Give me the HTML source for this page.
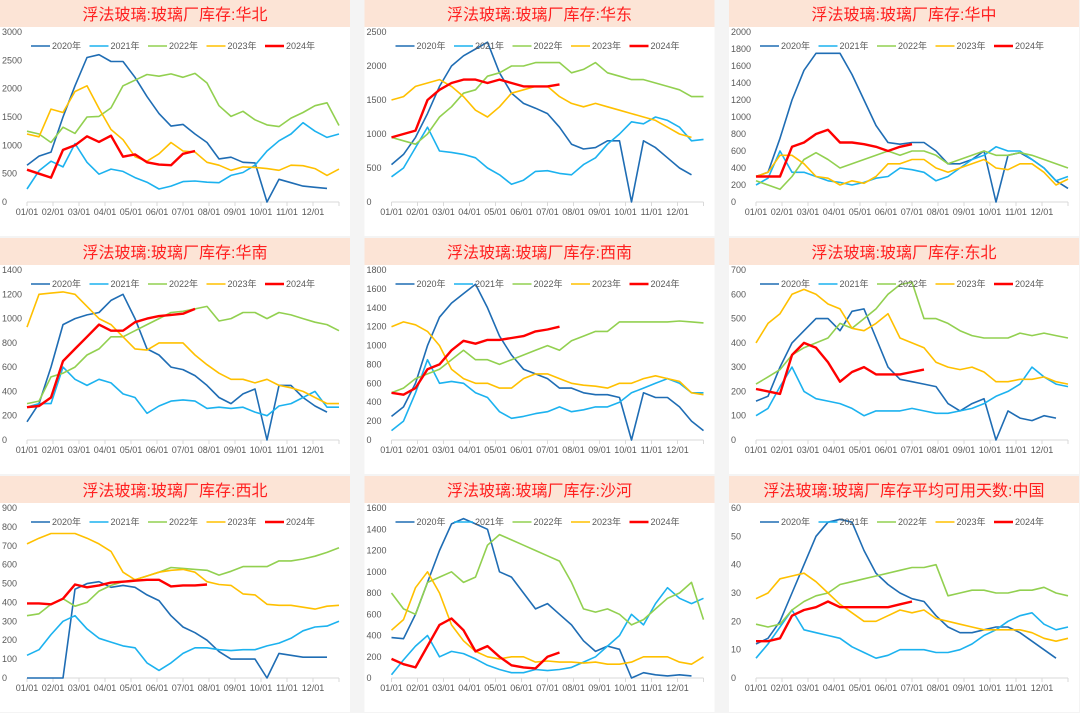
<!DOCTYPE html>
<html><head><meta charset="utf-8">
<style>
body{margin:0;width:1080px;height:713px;background:#f4f4f4;font-family:"Liberation Sans","Noto Sans CJK SC",sans-serif;overflow:hidden}
svg{display:block}
</style></head><body>
<svg id="root" width="1080" height="713"></svg>
<script>
const years = ["2020年","2021年","2022年","2023年","2024年"];
const months = ["01/01","02/01","03/01","04/01","05/01","06/01","07/01","08/01","09/01","10/01","11/01","12/01"];
const titles = ["浮法玻璃:玻璃厂库存:华北","浮法玻璃:玻璃厂库存:华东","浮法玻璃:玻璃厂库存:华中","浮法玻璃:玻璃厂库存:华南","浮法玻璃:玻璃厂库存:西南","浮法玻璃:玻璃厂库存:东北","浮法玻璃:玻璃厂库存:西北","浮法玻璃:玻璃厂库存:沙河","浮法玻璃:玻璃厂库存平均可用天数:中国"];
const yMax = [3000,2500,2000,1400,1800,700,900,1600,60];
const yStep = [500,500,200,200,200,100,100,200,10];

const huabei2020=[650,810,880,1500,2050,2550,2600,2480,2480,2200,1860,1560,1340,1370,1200,1050,760,790,700,690,0,400,340,280,260,240];
const huabei2021=[230,550,720,620,1030,700,490,580,540,430,350,230,280,360,370,350,340,470,520,650,900,1080,1200,1400,1250,1140,1200];
const huabei2022=[1250,1200,1050,1320,1210,1500,1510,1660,2050,2150,2250,2220,2260,2200,2270,2100,1700,1510,1600,1450,1360,1330,1480,1580,1700,1750,1350];
const huabei2023=[1200,1150,1640,1580,1950,2050,1650,1280,1100,800,720,850,1050,900,880,700,650,560,620,610,590,560,650,640,590,470,580];
const huabei2024=[570,500,430,920,1000,1160,1060,1170,800,840,700,660,650,850,900];

const huadong2020=[550,700,950,1300,1700,2000,2150,2250,2350,1900,1600,1450,1380,1300,1100,850,780,800,900,900,0,900,800,650,500,400];
const huadong2021=[370,500,800,1100,750,730,700,650,500,400,260,320,450,460,420,400,550,650,850,1000,1180,1150,1250,1200,1100,900,920];
const huadong2022=[950,900,850,1000,1250,1400,1600,1650,1850,1900,2000,2000,2050,2050,2050,1900,1950,2050,1900,1850,1800,1800,1750,1700,1650,1550,1550];
const huadong2023=[1500,1550,1700,1750,1800,1700,1550,1350,1250,1400,1600,1650,1700,1700,1550,1450,1400,1450,1400,1350,1300,1250,1200,1100,1000,950];
const huadong2024=[950,1000,1050,1500,1650,1750,1800,1800,1750,1800,1750,1700,1700,1700,1730];

const huazhong2020=[300,350,750,1200,1550,1750,1750,1750,1500,1200,900,700,680,700,700,600,450,450,500,600,0,550,580,500,400,250,160];
const huazhong2021=[200,280,600,350,350,300,250,230,200,230,280,300,400,380,350,250,300,400,500,550,650,600,600,500,400,250,300];
const huazhong2022=[250,200,150,300,500,580,500,400,450,500,550,600,550,600,600,550,450,500,550,600,550,550,580,550,500,450,400];
const huazhong2023=[300,350,550,550,450,300,280,200,250,220,300,450,450,500,500,400,350,400,450,500,400,380,450,450,350,200,270];
const huazhong2024=[300,300,300,650,700,800,850,700,700,680,650,600,650,680];

const huanan2020=[150,300,600,950,1000,1030,1050,1150,1200,1000,750,700,600,580,530,450,350,300,380,420,0,450,450,350,280,230];
const huanan2021=[270,300,300,600,500,450,500,470,380,350,220,280,320,330,320,260,270,260,270,230,200,280,300,350,400,270,270];
const huanan2022=[300,320,520,550,600,700,750,850,850,900,950,1000,1050,1060,1080,1100,980,1000,1050,1050,1000,1050,1030,1000,970,950,900];
const huanan2023=[930,1200,1210,1220,1200,1100,1000,950,850,750,740,800,800,800,700,620,550,500,500,470,500,450,430,400,350,300,300];
const huanan2024=[270,280,350,650,750,850,950,900,900,970,1000,1020,1030,1040,1080];

const xinan2020=[250,350,600,1000,1300,1450,1550,1650,1400,1100,900,750,700,650,550,550,500,480,480,450,0,500,450,450,350,200,100];
const xinan2021=[100,200,500,850,600,620,600,500,450,300,230,250,280,300,350,300,320,350,350,400,500,550,600,650,600,500,500];
const xinan2022=[500,550,650,700,750,850,950,850,850,800,850,900,950,1000,950,1050,1100,1150,1150,1250,1250,1250,1250,1250,1260,1250,1240];
const xinan2023=[1200,1250,1220,1150,1000,750,650,600,600,550,550,650,700,700,650,600,580,570,550,600,600,650,680,650,620,500,480];
const xinan2024=[500,480,550,750,800,950,1050,1020,1060,1060,1080,1100,1150,1170,1200];

const dongbei2020=[160,180,300,400,450,500,500,450,530,540,420,300,250,240,230,220,150,120,150,170,0,120,90,80,100,90];
const dongbei2021=[100,130,220,300,200,170,160,150,130,100,120,120,120,130,120,110,110,120,130,150,180,200,230,300,260,230,220];
const dongbei2022=[230,260,290,350,380,400,420,480,460,500,540,600,640,650,500,500,480,450,430,420,420,420,440,430,440,430,420];
const dongbei2023=[400,480,520,600,620,600,560,540,460,450,480,520,420,400,380,320,300,290,300,280,240,240,250,250,260,240,230];
const dongbei2024=[210,200,190,350,400,380,320,240,280,300,270,270,270,280,290];

const xibei2020=[0,0,0,0,470,500,510,480,490,480,440,410,330,270,240,200,140,100,100,100,0,130,120,110,110,110];
const xibei2021=[120,150,230,300,330,260,210,190,170,160,80,40,80,130,160,160,150,145,150,150,170,185,210,250,270,275,300];
const xibei2022=[330,340,390,420,380,400,460,490,510,520,540,560,585,580,575,570,545,565,590,590,590,620,620,630,645,665,690];
const xibei2023=[710,740,765,765,765,740,710,670,560,520,540,560,570,575,560,510,495,490,445,440,390,385,385,375,365,380,385];
const xibei2024=[395,395,390,420,495,480,490,505,510,515,520,520,485,490,490,495];

const shahe2020=[380,370,600,900,1200,1450,1500,1450,1400,1000,950,800,650,700,600,500,350,250,300,270,0,50,30,20,30,20];
const shahe2021=[30,170,300,400,200,250,230,180,120,80,50,50,80,70,80,100,150,200,300,400,600,500,700,850,750,700,750];
const shahe2022=[800,650,600,900,950,1000,900,950,1250,1350,1300,1250,1200,1150,1100,900,650,620,650,600,500,550,650,750,800,900,550];
const shahe2023=[450,550,850,1000,800,500,350,250,200,180,200,200,150,160,150,150,140,150,130,130,150,200,200,200,150,130,200];
const shahe2024=[180,130,100,300,500,560,450,250,300,200,120,100,90,200,240];

const china2020=[12,14,20,30,40,50,55,56,55,45,37,33,30,28,27,22,18,16,16,17,18,18,16,13,10,7];
const china2021=[7,12,18,24,17,16,15,14,11,9,7,8,10,10,10,9,9,10,12,15,17,20,22,23,19,17,18];
const china2022=[19,18,19,24,27,29,30,33,34,35,36,37,38,39,39,40,29,30,31,31,30,30,31,31,32,30,29];
const china2023=[28,30,35,36,37,34,30,26,23,20,20,22,24,23,24,21,20,19,18,17,17,17,17,16,14,13,14];
const china2024=[13,13,14,22,24,25,27,25,25,25,25,25,26,27];

const seriesByPanel=[
 [huabei2020,huabei2021,huabei2022,huabei2023,huabei2024],
 [huadong2020,huadong2021,huadong2022,huadong2023,huadong2024],
 [huazhong2020,huazhong2021,huazhong2022,huazhong2023,huazhong2024],
 [huanan2020,huanan2021,huanan2022,huanan2023,huanan2024],
 [xinan2020,xinan2021,xinan2022,xinan2023,xinan2024],
 [dongbei2020,dongbei2021,dongbei2022,dongbei2023,dongbei2024],
 [xibei2020,xibei2021,xibei2022,xibei2023,xibei2024],
 [shahe2020,shahe2021,shahe2022,shahe2023,shahe2024],
 [china2020,china2021,china2022,china2023,china2024]
];

const colors=["#1f6db4","#1cb2ef","#92d050","#ffc000","#ff0000"];
const widths=[1.6,1.6,1.6,1.6,2.4];
const NS="http://www.w3.org/2000/svg";
const root=document.getElementById('root');
function mk(tag,attrs,parent){const e=document.createElementNS(NS,tag);for(const k in attrs)e.setAttribute(k,attrs[k]);parent.appendChild(e);return e;}

const PW=350,PH=236,X0=27,X1=339,YT=32,YB=202;
for(let p=0;p<9;p++){
  const ox=(p%3)*364.5, oy=Math.floor(p/3)*238;
  const g=mk('g',{transform:`translate(${ox},${oy})`},root);
  
  
  const bg=mk('rect',{x:0,y:0,width:PW,height:PH,fill:'#ffffff'},g);
  
  
  const tb=mk('rect',{x:0,y:0,width:PW,height:27,fill:'#fce4d6'},g);
  
  
  const t=mk('text',{x:PW/2,y:20,'text-anchor':'middle','font-size':16,fill:'#ff2020'},g);
  t.textContent=titles[p];
  
  
  const yv=v=>YB-(v/yMax[p])*(YB-YT);
  const xv=i=>X0+i*12;
  for(let v=0;v<=yMax[p];v+=yStep[p]){
    const tl=mk('text',{x:2,y:yv(v)+3,'font-size':9,fill:'#595959'},g);
    tl.textContent=v;
    
    
  }
  const ax=mk('line',{x1:X0,y1:YB,x2:X1,y2:YB,stroke:'#d9d9d9','stroke-width':1},g);
  
  
  months.forEach((m,k)=>{
    const mx=X0+k*26;
    mk('line',{x1:mx,y1:YB,x2:mx,y2:YB+4,stroke:'#d9d9d9'},g);
    const ml=mk('text',{x:mx,y:YB+13,'text-anchor':'middle','font-size':9,fill:'#595959'},g);
    ml.textContent=m;
    
    
  });
  mk('line',{x1:X1,y1:YB,x2:X1,y2:YB+4,stroke:'#d9d9d9'},g);
  seriesByPanel[p].forEach((arr,s)=>{
    const d=arr.map((v,i)=>(i?'L':'M')+xv(i).toFixed(1)+' '+yv(v).toFixed(1)).join(' ');
    const pl=mk('path',{d:d,fill:'none',stroke:colors[s],'stroke-width':widths[s],'stroke-linejoin':'round'},g);
    
    
  });
  years.forEach((y,s)=>{
    const lx=31+s*58.5;
    const lg=mk('g',{},g);
    
    
    mk('line',{x1:lx,y1:46,x2:lx+19,y2:46,stroke:colors[s],'stroke-width':widths[s]},lg);
    const lt=mk('text',{x:lx+21,y:49,'font-size':9,fill:'#595959'},lg);
    lt.textContent=y;
  });
}
</script>
</body></html>
